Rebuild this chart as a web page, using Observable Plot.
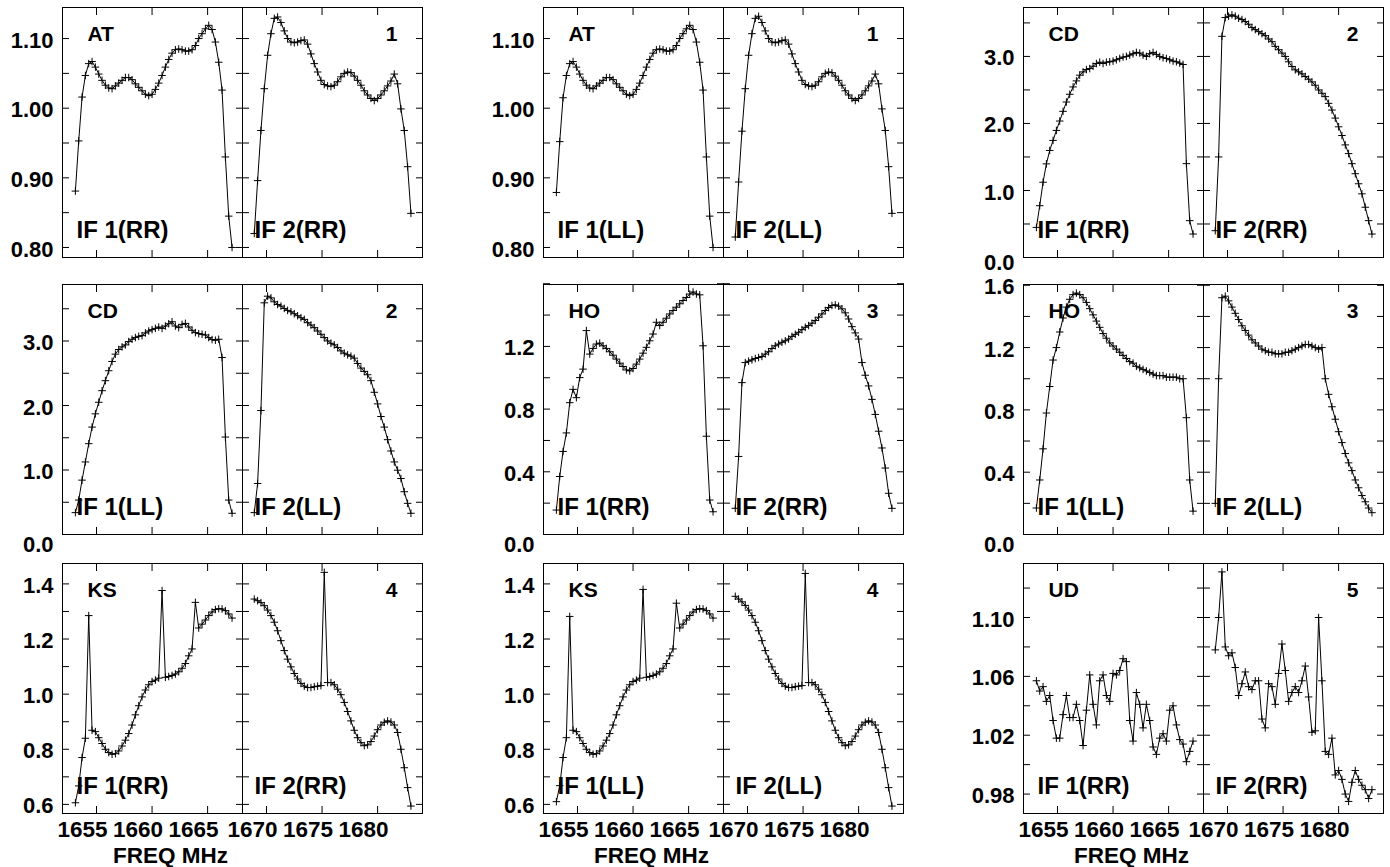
<!DOCTYPE html>
<html>
<head>
<meta charset="utf-8">
<script src="https://cdn.jsdelivr.net/npm/d3@7"></script>
<script src="https://cdn.jsdelivr.net/npm/@observablehq/plot@0.6"></script>
<style>
html, body { margin: 0; padding: 0; background: #fff; }
#chart { position: relative; width: 1390px; height: 867px; overflow: hidden; background: #fff; }
#chart svg { position: absolute; }
</style>
</head>
<body>
<div id="chart"></div>
<script>
// ---------------- data ----------------
const IF1_FREQ = [1653.1,1653.4,1653.7,1654.0,1654.3,1654.6,1654.9,1655.2,1655.5,1655.8,1656.1,1656.4,1656.7,1657.0,1657.3,1657.6,1657.9,1658.2,1658.5,1658.8,1659.1,1659.4,1659.7,1660.0,1660.3,1660.6,1660.9,1661.2,1661.5,1661.8,1662.1,1662.4,1662.7,1663.0,1663.3,1663.6,1663.9,1664.2,1664.5,1664.8,1665.1,1665.4,1665.7,1666.0,1666.3,1666.6,1666.9,1667.2];
const IF2_FREQ = [1668.9,1669.2,1669.5,1669.8,1670.1,1670.4,1670.7,1671.0,1671.3,1671.6,1671.9,1672.2,1672.5,1672.8,1673.1,1673.4,1673.7,1674.0,1674.3,1674.6,1674.9,1675.2,1675.5,1675.8,1676.1,1676.4,1676.7,1677.0,1677.3,1677.6,1677.9,1678.2,1678.5,1678.8,1679.1,1679.4,1679.7,1680.0,1680.3,1680.6,1680.9,1681.2,1681.5,1681.8,1682.1,1682.4,1682.7,1683.0];
const IF1_TICKS = [1655, 1660, 1665];
const IF2_TICKS = [1670, 1675, 1680];
const X_LABEL = "FREQ MHz";

const STATIONS = ["AT", "AT", "CD", "CD", "HO", "HO", "KS", "KS", "UD"];
const ANTENNAS = ["1", "1", "2", "2", "3", "3", "4", "4", "5"];
const POLS = ["RR", "LL", "RR", "LL", "RR", "LL", "RR", "LL", "RR"];

const AT_RR_IF1 = [0.881,0.953,1.016,1.047,1.064,1.067,1.059,1.049,1.040,1.033,1.029,1.028,1.032,1.036,1.040,1.044,1.044,1.041,1.035,1.030,1.025,1.020,1.018,1.020,1.027,1.036,1.047,1.059,1.070,1.079,1.084,1.085,1.084,1.082,1.082,1.084,1.090,1.100,1.107,1.114,1.119,1.113,1.095,1.066,1.026,0.930,0.845,0.800];
const AT_RR_IF2 = [0.820,0.896,0.968,1.028,1.076,1.107,1.129,1.131,1.123,1.111,1.100,1.095,1.094,1.095,1.097,1.098,1.092,1.078,1.064,1.052,1.040,1.034,1.032,1.031,1.033,1.038,1.045,1.050,1.052,1.051,1.046,1.040,1.033,1.025,1.019,1.014,1.011,1.014,1.019,1.025,1.032,1.039,1.049,1.035,0.999,0.968,0.916,0.849];
const AT_LL_IF1 = [0.879,0.952,1.015,1.047,1.064,1.067,1.059,1.049,1.040,1.033,1.029,1.028,1.032,1.036,1.040,1.044,1.044,1.041,1.035,1.030,1.025,1.020,1.018,1.020,1.027,1.036,1.047,1.059,1.070,1.079,1.084,1.085,1.084,1.082,1.082,1.084,1.090,1.100,1.107,1.114,1.119,1.113,1.095,1.066,1.026,0.930,0.845,0.800];
const AT_LL_IF2 = [0.815,0.894,0.967,1.028,1.076,1.107,1.129,1.132,1.123,1.111,1.100,1.095,1.094,1.095,1.097,1.098,1.092,1.078,1.064,1.052,1.040,1.034,1.032,1.031,1.033,1.038,1.045,1.050,1.052,1.051,1.046,1.040,1.033,1.025,1.019,1.014,1.011,1.014,1.019,1.025,1.032,1.039,1.049,1.035,0.999,0.968,0.916,0.849];
const CD_RR_IF1 = [0.449,0.773,1.123,1.397,1.597,1.747,1.896,2.036,2.181,2.320,2.435,2.545,2.635,2.720,2.769,2.804,2.819,2.854,2.894,2.914,2.894,2.914,2.920,2.930,2.950,2.970,2.990,3.000,3.020,3.040,3.060,3.050,3.020,3.000,3.040,3.060,3.030,3.000,2.980,2.970,2.950,2.930,2.920,2.900,2.880,1.400,0.550,0.350];
const CD_RR_IF2 = [0.400,1.500,3.300,3.580,3.600,3.620,3.600,3.570,3.550,3.520,3.480,3.430,3.400,3.370,3.340,3.310,3.260,3.220,3.150,3.100,3.050,3.000,2.920,2.850,2.800,2.770,2.740,2.700,2.660,2.620,2.570,2.500,2.450,2.400,2.300,2.200,2.080,1.950,1.820,1.680,1.550,1.400,1.250,1.100,0.950,0.750,0.550,0.350];
const CD_LL_IF1 = [0.339,0.534,0.843,1.125,1.408,1.665,1.871,2.050,2.230,2.385,2.539,2.683,2.796,2.868,2.909,2.940,2.991,3.027,3.053,3.073,3.083,3.125,3.155,3.176,3.196,3.217,3.196,3.232,3.268,3.299,3.232,3.207,3.258,3.273,3.217,3.166,3.130,3.114,3.104,3.094,3.053,3.022,3.012,3.027,2.744,1.511,0.534,0.329];
const CD_LL_IF2 = [0.339,0.791,1.922,3.592,3.695,3.669,3.608,3.566,3.541,3.505,3.474,3.453,3.423,3.392,3.361,3.335,3.284,3.248,3.207,3.155,3.104,3.053,3.001,2.965,2.940,2.899,2.847,2.811,2.786,2.765,2.734,2.652,2.580,2.529,2.477,2.385,2.205,2.025,1.829,1.665,1.470,1.295,1.125,0.997,0.868,0.663,0.483,0.329];
const HO_RR_IF1 = [0.156,0.370,0.530,0.648,0.841,0.926,0.873,1.001,1.055,1.301,1.151,1.187,1.215,1.221,1.204,1.187,1.166,1.144,1.119,1.093,1.072,1.050,1.044,1.059,1.087,1.119,1.157,1.194,1.236,1.279,1.354,1.333,1.354,1.380,1.407,1.429,1.450,1.472,1.493,1.512,1.534,1.547,1.534,1.529,1.204,0.627,0.220,0.145];
const HO_RR_IF2 = [0.167,0.498,0.969,1.097,1.106,1.114,1.123,1.129,1.136,1.151,1.166,1.187,1.204,1.215,1.226,1.236,1.247,1.264,1.277,1.290,1.307,1.322,1.333,1.348,1.365,1.386,1.407,1.429,1.448,1.461,1.465,1.457,1.440,1.414,1.375,1.326,1.286,1.247,1.097,1.016,0.948,0.862,0.766,0.659,0.552,0.424,0.263,0.167];
const HO_LL_IF1 = [0.17,0.35,0.55,0.78,0.95,1.12,1.20,1.30,1.39,1.46,1.51,1.54,1.55,1.54,1.52,1.49,1.45,1.41,1.37,1.33,1.29,1.26,1.23,1.21,1.19,1.17,1.15,1.13,1.11,1.10,1.08,1.07,1.06,1.05,1.04,1.03,1.02,1.02,1.02,1.01,1.01,1.01,1.01,1.00,1.00,0.75,0.35,0.15];
const HO_LL_IF2 = [0.20,1.00,1.52,1.53,1.50,1.46,1.42,1.38,1.34,1.31,1.28,1.25,1.23,1.21,1.19,1.18,1.17,1.17,1.16,1.16,1.16,1.17,1.17,1.18,1.19,1.20,1.21,1.22,1.22,1.21,1.20,1.19,1.20,1.00,0.90,0.82,0.74,0.66,0.59,0.52,0.46,0.41,0.35,0.30,0.25,0.21,0.17,0.14];
const KS_RR_IF1 = [0.606,0.667,0.770,0.840,1.285,0.869,0.864,0.842,0.821,0.800,0.788,0.782,0.784,0.794,0.812,0.833,0.857,0.888,0.925,0.958,0.990,1.015,1.034,1.046,1.051,1.058,1.376,1.061,1.064,1.068,1.073,1.081,1.094,1.111,1.139,1.164,1.333,1.240,1.254,1.269,1.285,1.298,1.307,1.310,1.309,1.303,1.291,1.276];
const KS_RR_IF2 = [1.345,1.339,1.332,1.321,1.305,1.285,1.261,1.230,1.194,1.158,1.127,1.099,1.075,1.055,1.039,1.029,1.024,1.024,1.027,1.029,1.031,1.442,1.042,1.042,1.034,1.018,0.998,0.970,0.937,0.903,0.869,0.842,0.824,0.813,0.816,0.828,0.848,0.871,0.888,0.898,0.903,0.899,0.888,0.861,0.800,0.733,0.661,0.594];
const KS_LL_IF1 = [0.610,0.668,0.770,0.842,1.282,0.869,0.864,0.842,0.821,0.800,0.788,0.782,0.784,0.794,0.812,0.833,0.857,0.888,0.925,0.958,0.990,1.015,1.034,1.046,1.051,1.058,1.380,1.061,1.064,1.068,1.073,1.081,1.094,1.111,1.139,1.164,1.330,1.240,1.254,1.269,1.285,1.298,1.307,1.310,1.309,1.303,1.291,1.276];
const KS_LL_IF2 = [1.355,1.345,1.335,1.322,1.305,1.285,1.261,1.230,1.194,1.158,1.127,1.099,1.075,1.055,1.039,1.029,1.024,1.024,1.027,1.029,1.031,1.438,1.042,1.042,1.034,1.018,0.998,0.970,0.937,0.903,0.869,0.842,0.824,0.813,0.816,0.828,0.848,0.871,0.888,0.898,0.903,0.899,0.888,0.861,0.800,0.733,0.661,0.594];
const UD_RR_IF1 = [1.057,1.050,1.053,1.043,1.047,1.030,1.018,1.018,1.034,1.047,1.032,1.032,1.041,1.030,1.013,1.037,1.061,1.041,1.027,1.057,1.061,1.047,1.043,1.062,1.061,1.064,1.072,1.070,1.030,1.016,1.049,1.041,1.025,1.041,1.030,1.012,1.007,1.018,1.021,1.016,1.037,1.040,1.027,1.017,1.014,1.002,1.009,1.016];
const UD_RR_IF2 = [1.078,1.100,1.131,1.080,1.074,1.076,1.066,1.047,1.055,1.063,1.053,1.051,1.057,1.057,1.031,1.025,1.055,1.053,1.041,1.062,1.082,1.064,1.043,1.049,1.053,1.049,1.057,1.067,1.046,1.022,1.023,1.100,1.057,1.009,1.007,1.018,0.993,0.996,0.990,0.980,0.975,0.988,0.996,0.990,0.986,0.983,0.977,0.983];

// y tick values (labelled / all)
const AT_Y_LABELS = [0.80, 0.90, 1.00, 1.10];
const AT_Y_TICKS = [0.80, 0.85, 0.90, 0.95, 1.00, 1.05, 1.10];
const CD_Y_LABELS = [0, 1, 2, 3];
const CD_Y_TICKS = [0, 0.5, 1, 1.5, 2, 2.5, 3, 3.5];
const HO_RR_Y_LABELS = [0, 0.4, 0.8, 1.2];
const HO_LL_Y_LABELS = [0, 0.4, 0.8, 1.2, 1.6];
const HO_Y_TICKS = [0, 0.2, 0.4, 0.6, 0.8, 1.0, 1.2, 1.4, 1.6];
const KS_Y_LABELS = [0.6, 0.8, 1.0, 1.2, 1.4];
const KS_Y_TICKS = [0.6, 0.7, 0.8, 0.9, 1.0, 1.1, 1.2, 1.3, 1.4];
const UD_Y_LABELS = [0.98, 1.02, 1.06, 1.10];
const UD_Y_TICKS = [0.98, 1.00, 1.02, 1.04, 1.06, 1.08, 1.10, 1.12];

// ---------------- panel table ----------------
const SERIES = [
  [AT_RR_IF1, AT_RR_IF2], [AT_LL_IF1, AT_LL_IF2], [CD_RR_IF1, CD_RR_IF2],
  [CD_LL_IF1, CD_LL_IF2], [HO_RR_IF1, HO_RR_IF2], [HO_LL_IF1, HO_LL_IF2],
  [KS_RR_IF1, KS_RR_IF2], [KS_LL_IF1, KS_LL_IF2], [UD_RR_IF1, UD_RR_IF2]
];
const Y_SPECS = [
  {domain: [0.7856, 1.1446], labels: AT_Y_LABELS, ticks: AT_Y_TICKS, fmt: ".2f"},
  {domain: [0.7856, 1.1446], labels: AT_Y_LABELS, ticks: AT_Y_TICKS, fmt: ".2f"},
  {domain: [0, 3.73], labels: CD_Y_LABELS, ticks: CD_Y_TICKS, fmt: ".1f"},
  {domain: [0, 3.876], labels: CD_Y_LABELS, ticks: CD_Y_TICKS, fmt: ".1f"},
  {domain: [0, 1.595], labels: HO_RR_Y_LABELS, ticks: HO_Y_TICKS, fmt: ".1f"},
  {domain: [0, 1.605], labels: HO_LL_Y_LABELS, ticks: HO_Y_TICKS, fmt: ".1f"},
  {domain: [0.567, 1.474], labels: KS_Y_LABELS, ticks: KS_Y_TICKS, fmt: ".1f"},
  {domain: [0.567, 1.474], labels: KS_Y_LABELS, ticks: KS_Y_TICKS, fmt: ".1f"},
  {domain: [0.9668, 1.1367], labels: UD_Y_LABELS, ticks: UD_Y_TICKS, fmt: ".2f"}
];

// ---------------- layout ----------------
const COL_LEFT = [62, 543, 1023];
const ROW_TOP = [7, 284, 563];
const PW = 180, PH = 250;
const M = {l: 72, r: 12, t: 10, b: 62};
const X_DOMAINS = [[1651.94, 1668.14], [1667.84, 1684.04]];
const EDGE_LABEL_DY = [10, 10, 5, 10, 10, 10, 10, 10, 10];
const FONT = "'Liberation Sans', Arial, Helvetica, sans-serif";

const chart = document.getElementById("chart");

function subPanel(k, ifi) {
  const row = Math.floor(k / 3), col = k % 3;
  const freqs = ifi === 0 ? IF1_FREQ : IF2_FREQ;
  const vals = SERIES[k][ifi];
  const data = freqs.map((f, i) => ({f, v: vals[i]}));
  const ys = Y_SPECS[k];
  const xt = ifi === 0 ? IF1_TICKS : IF2_TICKS;
  const fmt = d3.format(ys.fmt);
  const y0 = ys.domain[0];
  const edge = ys.labels.filter(t => Math.abs(t - y0) < 1e-9);
  const inner = ys.labels.filter(t => Math.abs(t - y0) >= 1e-9);
  const txt = {fontWeight: "bold", fill: "black"};

  const marks = [
    Plot.frame({stroke: "black", strokeWidth: 1}),
    Plot.axisY({anchor: "left", ticks: ys.ticks, tickSize: 7, dx: 7, fill: "none", label: null}),
    Plot.axisY({anchor: "right", ticks: ys.ticks, tickSize: 7, dx: -7, fill: "none", label: null}),
    Plot.axisX({anchor: "top", ticks: xt, tickSize: 7, dy: 7, fill: "none", label: null}),
    Plot.axisX({anchor: "bottom", ticks: xt, tickSize: 7, dy: -7, fill: "none", label: null}),
    Plot.line(data, {x: "f", y: "v", stroke: "black", strokeWidth: 1}),
    Plot.dot(data, {x: "f", y: "v", symbol: "plus", r: 2.55, stroke: "black", strokeWidth: 1, fill: "none"})
  ];

  if (ifi === 0) {
    marks.push(
      Plot.axisY({anchor: "left", ticks: inner, tickSize: 0, tickPadding: 9, dy: 2, tickFormat: fmt, fontSize: 22, label: null, ...txt}),
      Plot.text([STATIONS[k]], {text: d => d, frameAnchor: "top-left", dx: 25, dy: 33, lineAnchor: "bottom", textAnchor: "start", fontSize: 21, ...txt}),
      Plot.text(["IF 1(" + POLS[k] + ")"], {text: d => d, frameAnchor: "bottom-left", dx: 14, dy: -20, lineAnchor: "bottom", textAnchor: "start", fontSize: 24, ...txt})
    );
    if (edge.length) {
      marks.push(Plot.axisY({anchor: "left", ticks: edge, tickSize: 0, tickPadding: 9, dy: EDGE_LABEL_DY[k], tickFormat: fmt, fontSize: 22, label: null, ...txt}));
    }
  } else {
    marks.push(
      Plot.text([ANTENNAS[k]], {text: d => d, frameAnchor: "top-right", dx: -25, dy: 33, lineAnchor: "bottom", textAnchor: "end", fontSize: 21, ...txt}),
      Plot.text(["IF 2(" + POLS[k] + ")"], {text: d => d, frameAnchor: "bottom-left", dx: 12, dy: -20, lineAnchor: "bottom", textAnchor: "start", fontSize: 24, ...txt})
    );
  }

  if (row === 2) {
    marks.push(Plot.axisX({anchor: "bottom", ticks: xt, tickSize: 0, tickPadding: 8, dx: -14, tickFormat: d3.format("d"), fontSize: 22.5, label: null, ...txt}));
    if (ifi === 0) {
      marks.push(Plot.text([X_LABEL], {text: d => d, frameAnchor: "bottom-left", dx: 108, dy: 49, lineAnchor: "bottom", textAnchor: "middle", fontSize: 22.5, ...txt}));
    }
  }

  const svg = Plot.plot({
    width: PW + M.l + M.r,
    height: PH + M.t + M.b,
    marginLeft: M.l, marginRight: M.r, marginTop: M.t, marginBottom: M.b,
    x: {domain: X_DOMAINS[ifi]},
    y: {domain: ys.domain},
    style: {background: "transparent", overflow: "visible", fontFamily: FONT, color: "black"},
    marks
  });
  const left = COL_LEFT[col] + ifi * PW - M.l;
  const top = ROW_TOP[row] - M.t;
  svg.style.position = "absolute";
  svg.style.left = left + "px";
  svg.style.top = top + "px";
  svg.style.maxWidth = "none";
  chart.appendChild(svg);
}

for (let k = 0; k < 9; k++) {
  subPanel(k, 0);
  subPanel(k, 1);
}
</script>
</body>
</html>
